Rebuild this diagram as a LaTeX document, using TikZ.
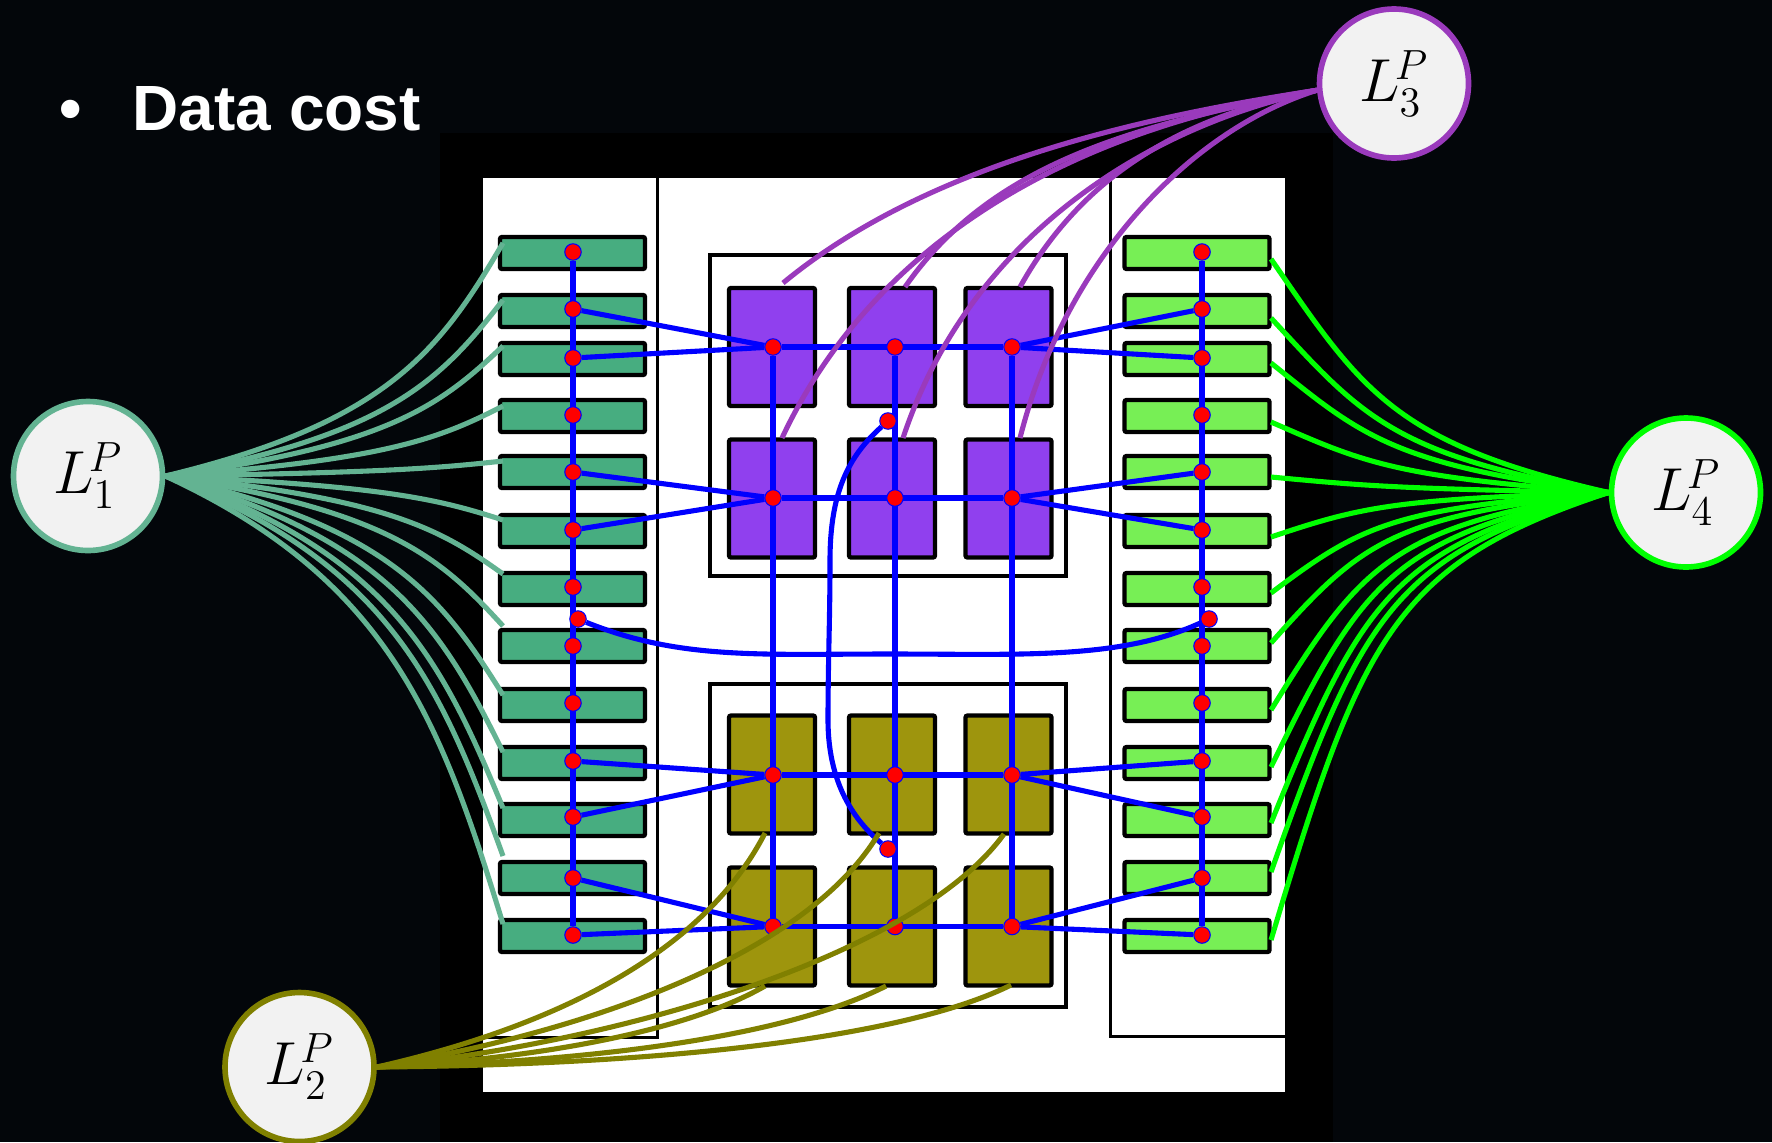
\documentclass[tikz,border=0pt]{standalone}
\usepackage{fontspec}
\setmainfont{Liberation Sans}
\usetikzlibrary{positioning}
\definecolor{slidebg}{RGB}{3,6,10}
\definecolor{tealfill}{RGB}{71,173,128}
\definecolor{tealline}{RGB}{99,179,146}
\definecolor{limefill}{RGB}{119,239,85}
\definecolor{limeline}{RGB}{0,255,0}
\definecolor{violetfill}{RGB}{144,64,238}
\definecolor{violetline}{RGB}{154,58,188}
\definecolor{olivefill}{RGB}{158,149,13}
\definecolor{oliveline}{RGB}{128,128,0}
\definecolor{circlefill}{RGB}{242,242,242}
\pgfdeclarelayer{panel}
\pgfdeclarelayer{wires}
\pgfsetlayers{panel,wires,main}
\newcommand{\lterm}[1]{\(L_{#1}^{\mkern-2mu P}\)}
\tikzset{
  bar/.style={draw=black, line width=1.25pt, rounded corners=0.6pt, minimum width=14.5mm, minimum height=3.2mm, inner sep=0pt},
  cell/.style={draw=black, line width=1.25pt, rounded corners=0.6pt, minimum width=8.6mm, minimum height=11.8mm, inner sep=0pt},
  dot/.style={circle, fill=red, draw=blue, line width=0.3pt, minimum size=1.65mm, inner sep=0pt},
  wire/.style={draw=blue, line width=1.45pt},
  pinline/.style={line width=1.45pt},
  label/.style={circle, fill=circlefill, line width=1.6pt, minimum size=14.9mm, inner sep=0pt, font=\fontsize{17.28}{20}\selectfont},
  boxline/.style={draw=black, line width=0.85pt},
  titletext/.style={text=white, font=\bfseries\fontsize{18.2}{20}\selectfont, inner sep=0pt, anchor=base west}
}
\begin{document}
\begin{tikzpicture}[x=0.1mm, y=-0.1mm]
  \useasboundingbox (0,0) rectangle (1772,1142);
  % slide background, floorplan panels, bars and cells
  \begin{pgfonlayer}{panel}
    \fill[slidebg] (0,0) rectangle (1772,1142);
    \fill[black] (440,133) rectangle (1333,1142);
    \fill[white] (483,178) rectangle (1285,1092);
    \draw[boxline] (481.5,177) rectangle (657,1037);
    \draw[boxline] (1110,177) rectangle (1286.5,1036);
    \draw[boxline, line width=1pt] (710,255) rectangle (1066,576);
    \draw[boxline, line width=1pt] (710,684) rectangle (1066,1007);
    \foreach \y [count=\i] in {253,311,359,416,472,531,589,646,705,763,820,878,936} {
      \node[bar, fill=tealfill] (lb\i) at (572.5,\y) {};
      \node[bar, fill=limefill] (rb\i) at (1197,\y) {};
    }
    \foreach \x [count=\c] in {772,892,1008.5} {
      \node[cell, fill=violetfill] (cell1\c) at (\x,347) {};
      \node[cell, fill=violetfill] (cell2\c) at (\x,498.5) {};
      \node[cell, fill=olivefill] (cell3\c) at (\x,774.5) {};
      \node[cell, fill=olivefill] (cell4\c) at (\x,926.5) {};
    }
  \end{pgfonlayer}
  % pins on the bars
  \foreach \y [count=\i] in {252,309,358,415,472,530,587,646,703,761,817,878,935} {
    \node[dot] (ld\i) at (573,\y) {};
    \node[dot] (rd\i) at (1202,\y) {};
  }
  % junctions on the grid
  \foreach \y [count=\r] in {347,498,775,926.5} {
    \foreach \x [count=\c] in {773,895,1012} {
      \node[dot] (j\r\c) at (\x,\y) {};
    }
  }
  \node[dot] (xl) at (578,619) {};
  \node[dot] (xr) at (1209,619) {};
  \node[dot] (xt) at (888,421) {};
  \node[dot] (xb) at (888,849) {};
  % blue routing
  \begin{pgfonlayer}{wires}
    \draw[wire] (ld1) -- (ld13);
    \draw[wire] (rd1) -- (rd13);
    \foreach \r in {1,...,4} {
      \draw[wire] (j\r1) -- (j\r3);
    }
    \foreach \c in {1,...,3} {
      \draw[wire] (j1\c) -- (j4\c);
    }
    \foreach \a/\k in {2/1,3/1,5/2,6/2,10/3,11/3,12/4,13/4} {
      \draw[wire] (ld\a) -- (j\k1);
      \draw[wire] (rd\a) -- (j\k3);
    }
    \draw[wire] (xl) .. controls (680,660) and (760,654) .. (890,654) .. controls (1020,654) and (1120,660) .. (xr);
    \draw[wire] (xt) .. controls (850,455) and (830,490) .. (830,560) .. controls (830,620) and (828,660) .. (828,720) .. controls (828,790) and (860,825) .. (xb);
  \end{pgfonlayer}
  % cost terminals
  \node[label, draw=tealline] (l1) at (88,476) {\lterm{1}};
  \node[label, draw=oliveline] (l2) at (299.5,1067) {\lterm{2}};
  \node[label, draw=violetline] (l3) at (1394,83.5) {\lterm{3}};
  \node[label, draw=limeline] (l4) at (1686,492.5) {\lterm{4}};
  % left fan
  \foreach \y [count=\i] in {243,300,346,406,461,520,574,626,695,752,808,856,924} {
    \coordinate (le\i) at (503,\y);
    \draw[pinline, tealline] (l1.east) .. controls (388,{476+0.23*(\y-476)}) and (440,{\y+0.46*(476-\y)}) .. (le\i);
  }
  % right fan, upper and lower
  \foreach \y [count=\i] in {259,318,363,422,477} {
    \coordinate (re\i) at (1271,\y);
    \draw[pinline, limeline] (l4.west) .. controls (1392,{492+0.21*(\y-492)}) and (1361,{\y+0.56*(492-\y)}) .. (re\i);
  }
  \foreach \y [count=\i from 6] in {537,593,643,710,767,823,872,940} {
    \coordinate (re\i) at (1271,\y);
    \draw[pinline, limeline] (l4.west) .. controls (1392,{492+0.16*(\y-492)}) and (1361,{\y+0.67*(492-\y)}) .. (re\i);
  }
  % top fan
  \coordinate (v1) at (783,283);
  \coordinate (v2) at (905,287);
  \coordinate (v3) at (1020,287);
  \coordinate (v4) at (782,438);
  \coordinate (v5) at (903,438);
  \coordinate (v6) at (1020,438);
  \draw[pinline, violetline] (l3.185) .. controls (1120,120) and (920,170) .. (v1);
  \draw[pinline, violetline] (l3.185) .. controls (1130,125) and (990,165) .. (v2);
  \draw[pinline, violetline] (l3.185) .. controls (1190,115) and (1085,170) .. (v3);
  \draw[pinline, violetline] (l3.185) .. controls (1060,130) and (870,250) .. (v4);
  \draw[pinline, violetline] (l3.185) .. controls (1130,130) and (965,250) .. (v5);
  \draw[pinline, violetline] (l3.185) .. controls (1190,130) and (1065,260) .. (v6);
  % bottom fan
  \coordinate (o1) at (765,833);
  \coordinate (o2) at (879,833);
  \coordinate (o3) at (1004,834);
  \coordinate (o4) at (765,986);
  \coordinate (o5) at (886,986);
  \coordinate (o6) at (1011,985);
  \draw[pinline, oliveline] (l2.east) .. controls (540,1030) and (700,960) .. (o1);
  \draw[pinline, oliveline] (l2.east) .. controls (600,1030) and (810,950) .. (o2);
  \draw[pinline, oliveline] (l2.east) .. controls (640,1040) and (920,950) .. (o3);
  \draw[pinline, oliveline] (l2.east) .. controls (520,1060) and (680,1035) .. (o4);
  \draw[pinline, oliveline] (l2.east) .. controls (600,1062) and (790,1035) .. (o5);
  \draw[pinline, oliveline] (l2.east) .. controls (650,1065) and (900,1040) .. (o6);
  % heading
  \node[titletext] (bullet) at (59,130) {\textbullet};
  \node[titletext] (heading) at (132,130) {Data cost};
\end{tikzpicture}
\end{document}
